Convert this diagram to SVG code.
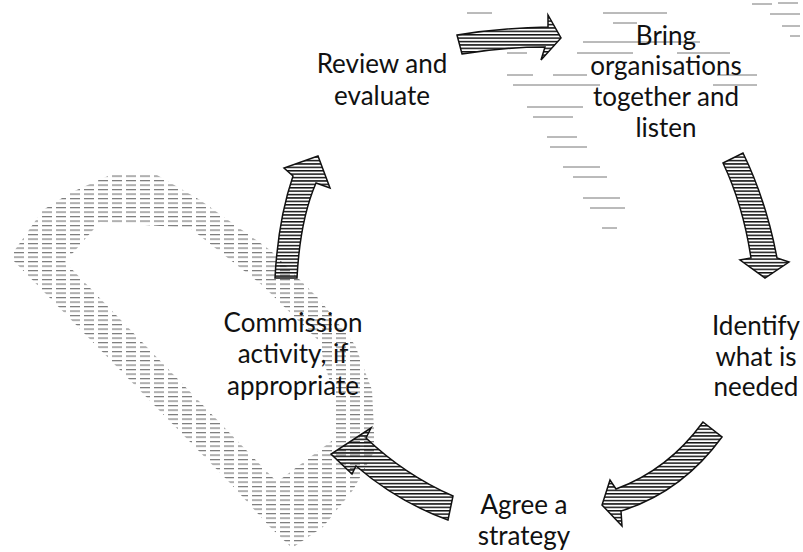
<svg xmlns="http://www.w3.org/2000/svg" width="803" height="552" viewBox="0 0 803 552">
<defs>
<pattern id="hatch" width="6" height="3.4" patternUnits="userSpaceOnUse">
<rect width="6" height="1.5" fill="#111"/>
</pattern>
<pattern id="ghost" width="14" height="4.5" patternUnits="userSpaceOnUse">
<rect width="10" height="1.2" fill="#7a7a7a"/>
</pattern>
</defs>
<style>
.lbl{font-family:Lato,"Open Sans","Liberation Sans",sans-serif;font-size:26px;fill:#111;text-anchor:middle}
.arr{fill:url(#hatch);stroke:#111;stroke-width:1.5;stroke-linejoin:miter}
.dash{stroke:#777;stroke-width:1;fill:none}
</style>
<rect width="803" height="552" fill="#fff"/>
<g id="ghost-shape">
<path d="M10,257 L43,210 L70,193 L110,175 L157,175 L200,200 L270,250 L320,300 L355,345 L372,390 L375,450 L353,490 L323,527 L292,548 L270,527 L230,483 Z M65,262 L100,222 L190,228 L262,285 L318,340 L335,400 L333,440 L277,482 Z" fill="url(#ghost)" fill-rule="evenodd"/>
</g>
<g id="artifacts">
<path class="dash" d="M467,13h25 M603,13h64 M613,23h24 M583,42h117 M507,53h20 M577,53h56 M677,53h53 M507,75h26 M553,75h34 M717,75h40 M513,85h87 M713,85h44 M527,107h56 M533,117h40 M547,137h30 M550,147h37 M563,167h37 M573,177h34 M583,198h37 M590,208h35 M602,228h15 M752,4h20 M778,3h20 M770,14h30 M782,26h18 M790,36h10"/>
</g>
<g id="connectors">
<path id="a1" class="arr" d="M457,35 Q500,28 548,27 L548,15 L561,38 L541,60 L545,47 Q505,47 462,54 Z"/>
<path id="a2" class="arr" d="M723,163 L743,153 Q766,200 777,258 L789,262 L765,278 L740,260 L751,258 Q743,205 723,163 Z"/>
<path id="a3" class="arr" d="M703,422 L722,437 Q682,492 621,511 L622,526 L602,505 L610,480 L616,489 Q668,470 703,422 Z"/>
<path id="a4" class="arr" d="M453,496 L448,520 Q398,502 356,466 L352,474 L331,454 L371,428 L366,438 Q405,475 453,496 Z"/>
<path id="a5" class="arr" d="M275,278 L297,278 Q300,220 316,183 L330,188 L318,156 L284,168 L293,176 Q278,220 275,278 Z"/>
</g>
<g id="review"><text class="lbl" x="382" y="73">Review and</text><text class="lbl" x="382" y="105">evaluate</text></g>
<g id="bring"><text class="lbl" x="666" y="45">Bring</text><text class="lbl" x="666" y="75">organisations</text><text class="lbl" x="666" y="106">together and</text><text class="lbl" x="666" y="137">listen</text></g>
<g id="identify"><text class="lbl" x="756" y="335">Identify</text><text class="lbl" x="756" y="366">what is</text><text class="lbl" x="756" y="396">needed</text></g>
<g id="agree"><text class="lbl" x="524" y="514">Agree a</text><text class="lbl" x="524" y="545">strategy</text></g>
<g id="commission"><text class="lbl" x="293" y="332">Commission</text><text class="lbl" x="293" y="363">activity, if</text><text class="lbl" x="293" y="395">appropriate</text></g>
</svg>
